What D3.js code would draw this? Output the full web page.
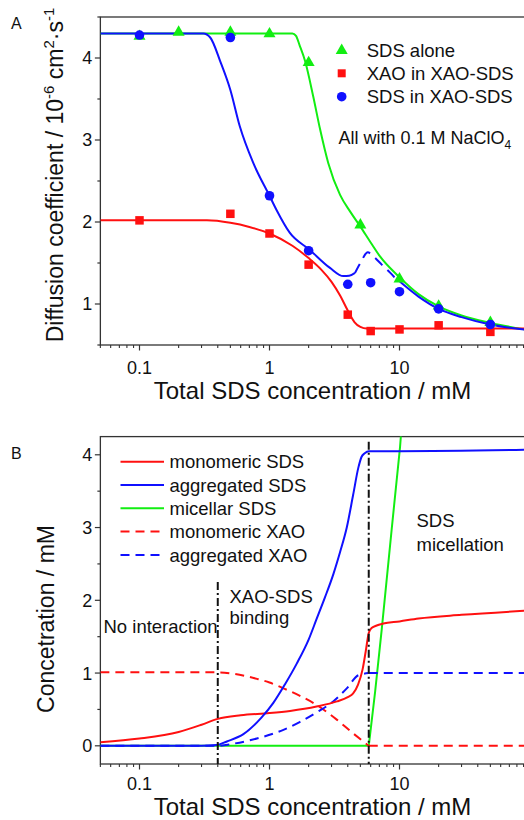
<!DOCTYPE html>
<html><head><meta charset="utf-8">
<script src="https://cdn.jsdelivr.net/npm/d3@7"></script>
<style>
html,body{margin:0;padding:0;background:#fff;}
svg{display:block;font-family:"Liberation Sans",Arial,Helvetica,sans-serif;}
</style></head><body>
<svg id="chart" width="524" height="820"></svg>
<script>
// ---------- Panel A: diffusion coefficient (10^-6 cm^2 s^-1) vs total SDS (mM)
const sdsAloneConc = [0.1, 0.2, 0.5, 1, 2, 5, 10, 20, 50];
const sdsAloneD    = [4.27, 4.32, 4.32, 4.30, 3.95, 1.97, 1.31, 0.98, 0.78];
const mixConc      = [0.1, 0.5, 1, 2, 4, 6, 10, 20, 50];
const xaoInMixD    = [2.02, 2.10, 1.86, 1.48, 0.87, 0.67, 0.69, 0.74, 0.66];
const sdsInMixD    = [4.28, 4.25, 2.32, 1.65, 1.24, 1.26, 1.15, 0.94, 0.75];

// fitted curves, [conc, D]
const sdsAloneFit = [[0.05,4.30],[1.5,4.30],[1.6,4.27],[1.7,4.16],[1.88,3.96],[2.17,3.53],[2.45,3.13],
  [2.83,2.72],[3.49,2.33],[4.2,2.12],[4.97,1.95],[6,1.75],[7.08,1.58],[10.1,1.32],[14,1.12],[20,0.97],
  [30,0.86],[50,0.77],[100,0.68]];
const xaoInMixFit = [[0.05,2.02],[0.33,2.02],[0.5,1.99],[0.7,1.94],[1.0,1.86],[1.5,1.71],[2.0,1.56],
  [2.5,1.42],[3.0,1.27],[3.5,1.10],[4.0,0.92],[4.5,0.78],[5.0,0.72],[5.6,0.70],[100,0.70]];
const sdsInMixFit = [[0.05,4.30],[0.31,4.30],[0.35,4.25],[0.42,3.95],[0.5,3.61],[0.59,3.17],[0.75,2.72],
  [1.0,2.32],[1.13,2.15],[1.43,1.87],[2.04,1.66],[2.92,1.44],[3.7,1.34],[4.1,1.345],[4.55,1.38]];
const sdsInMixBridge = [[4.55,1.38],[5.0,1.50],[5.7,1.63],[6.3,1.58],[7.3,1.48],[8.5,1.38],[9.5,1.30],[10.1,1.27]];
const sdsInMixTail = [[10.1,1.27],[14,1.09],[20,0.94],[30,0.84],[50,0.75],[100,0.68]];

const legendA = ["SDS alone", "XAO in XAO-SDS", "SDS in XAO-SDS"];

// ---------- Panel B: species concentrations (mM) vs total SDS (mM)
const monoSDS = [[0.05,0.05],[0.1,0.10],[0.2,0.19],[0.3,0.29],[0.4,0.37],[0.6,0.42],[1,0.45],[1.44,0.48],
  [2.3,0.54],[3.3,0.61],[4.0,0.67],[4.4,0.72],[4.8,0.84],[5.2,1.05],[5.5,1.30],[5.8,1.55],[6.1,1.62],
  [6.6,1.65],[7.5,1.68],[10,1.71],[14,1.75],[30,1.80],[100,1.86]];
const aggSDS = [[0.05,0],[0.3,0],[0.39,0.01],[0.47,0.06],[0.63,0.16],[0.87,0.39],[1.07,0.59],[1.32,0.85],
  [1.62,1.13],[2.0,1.46],[2.3,1.74],[2.67,2.04],[3.1,2.36],[3.5,2.67],[3.93,3.0],[4.4,3.45],
  [4.82,3.82],[5.1,3.97],[5.4,4.02],[5.8,4.05],[10,4.05],[100,4.07]];
const micSDS = [[0.05,0],[5.8,0],[6.5,0.75],[7.3,1.6],[8.7,2.97],[10.1,4.11],[10.6,4.6]];
const monoXAO = [[0.05,1.01],[0.4,1.01],[0.53,0.99],[0.8,0.92],[1.0,0.87],[1.28,0.79],[1.7,0.69],
  [2.31,0.56],[3.29,0.36],[4.41,0.17],[5.8,0.0]];
const monoXAOTail = [[5.8,0],[100,0]];
const aggXAO = [[0.05,0],[0.4,0],[0.53,0.03],[0.8,0.10],[1.28,0.22],[1.72,0.33],[2.31,0.46],[3.09,0.61],
  [3.93,0.79],[4.82,0.97],[5.8,1.0]];
const aggXAOTail = [[5.8,1.0],[100,1.0]];

const legendB = ["monomeric SDS", "aggregated SDS", "micellar SDS", "monomeric XAO", "aggregated XAO"];
const regionBounds = [0.4, 5.8];      // total SDS (mM) of the dash-dot boundaries
const regionBoundTops = [2.25, 4.18]; // concentration where each boundary starts

const xTickVals = [0.1, 1, 10, 100];
const xTickLabels = ["0.1", "1", "10", ""];
const yTicksA = [1, 2, 3, 4];
const yTicksB = [0, 1, 2, 3, 4];

// ---------- drawing
const RED = "#ff1010", BLUE = "#1010ff", GREEN = "#12ee12";
const svg = d3.select("#chart");
const decade = 130, x01 = 139.5;
const x = d3.scaleLog().domain([0.05, 100]).range([x01 - decade * Math.log10(2), x01 + decade * 3]);
const yA = d3.scaleLinear().domain([0.5, 4.5]).range([345, 17]);
const yB = d3.scaleLinear().domain([-0.25, 4.25]).range([764, 436.6]);

const minorX = [];
[0.01, 0.1, 1, 10].forEach(b => { for (let k = 2; k <= 9; k++) { const v = b * k; if (v >= 0.05 && v <= 100) minorX.push(v); } });

function panel(y, yMajor, clipId, tickDy) {
  const [x0, x1] = x.range();
  const [yb, yt] = y.range();
  svg.append("clipPath").attr("id", clipId).append("rect")
    .attr("x", x0).attr("y", yt).attr("width", x1 - x0).attr("height", yb - yt);
  const g = svg.append("g");
  // frame
  g.append("rect").attr("x", x0).attr("y", yt).attr("width", x1 - x0).attr("height", yb - yt)
    .attr("fill", "none").attr("stroke", "#333").attr("stroke-width", 1.3);
  // x ticks
  xTickVals.forEach((v, i) => {
    g.append("line").attr("x1", x(v)).attr("x2", x(v)).attr("y1", yb).attr("y2", yb + 5.5)
      .attr("stroke", "#333").attr("stroke-width", 1.2);
    g.append("text").attr("x", x(v)).attr("y", yb + tickDy).attr("text-anchor", "middle")
      .attr("font-size", 18).attr("fill", "#111").text(xTickLabels[i]);
  });
  minorX.forEach(v => g.append("line").attr("x1", x(v)).attr("x2", x(v)).attr("y1", yb).attr("y2", yb + 3)
    .attr("stroke", "#333").attr("stroke-width", 1.1));
  // y ticks
  const [d0, d1] = y.domain();
  for (let v = Math.ceil(d0 * 2) / 2; v <= d1 + 1e-9; v += 0.5) {
    const major = Math.abs(v - Math.round(v)) < 1e-9;
    g.append("line").attr("x1", x0).attr("x2", x0 - (major ? 5.5 : 3)).attr("y1", y(v)).attr("y2", y(v))
      .attr("stroke", "#333").attr("stroke-width", 1.2);
  }
  yMajor.forEach(v => g.append("text").attr("x", x0 - 8).attr("y", y(v)).attr("dy", "0.36em")
    .attr("text-anchor", "end").attr("font-size", 18).attr("fill", "#111").text(v));
  return svg.append("g").attr("clip-path", `url(#${clipId})`);
}

function curve(g, y, data, color, dash, curveType) {
  const line = d3.line().x(d => x(d[0])).y(d => y(d[1])).curve(curveType || d3.curveMonotoneX);
  const p = g.append("path").attr("d", line(data)).attr("fill", "none").attr("stroke", color)
    .attr("stroke-width", 2).attr("stroke-linejoin", "round");
  if (dash) p.attr("stroke-dasharray", dash);
  return p;
}

function tri(g, cx, cy, s, color) {
  const h = s * 0.87;
  g.append("path").attr("d", `M${cx},${cy - h * 0.62}L${cx + s / 2},${cy + h * 0.38}L${cx - s / 2},${cy + h * 0.38}Z`)
    .attr("fill", color);
}
function sq(g, cx, cy, s, color) {
  g.append("rect").attr("x", cx - s / 2).attr("y", cy - s / 2).attr("width", s).attr("height", s).attr("fill", color);
}
function dot(g, cx, cy, r, color) {
  g.append("circle").attr("cx", cx).attr("cy", cy).attr("r", r).attr("fill", color);
}

// ===== Panel A
const pA = panel(yA, yTicksA, "clipA", 28.5);
curve(pA, yA, sdsAloneFit, GREEN);
curve(pA, yA, xaoInMixFit, RED);
curve(pA, yA, sdsInMixFit, BLUE);
curve(pA, yA, sdsInMixBridge, BLUE, "10,7");
curve(pA, yA, sdsInMixTail, BLUE);
sdsAloneConc.forEach((c, i) => tri(pA, x(c), yA(sdsAloneD[i]), 12, GREEN));
mixConc.forEach((c, i) => sq(pA, x(c), yA(xaoInMixD[i]), 8.5, RED));
mixConc.forEach((c, i) => dot(pA, x(c), yA(sdsInMixD[i]), 4.8, BLUE));

const legA = svg.append("g").attr("font-size", 18.5).attr("fill", "#111");
const legRowsA = [50, 73.3, 96.7];
tri(legA, 341.7, legRowsA[0], 12, GREEN);
sq(legA, 341.7, legRowsA[1], 8, RED);
dot(legA, 341.7, legRowsA[2], 4.8, BLUE);
legendA.forEach((t, i) => legA.append("text").attr("x", 366.7).attr("y", legRowsA[i]).attr("dy", "0.36em").text(t));
const note = legA.append("text").attr("x", 338.5).attr("y", 137.5).attr("dy", "0.36em").attr("font-size", 18);
note.append("tspan").text("All with 0.1 M NaClO");
note.append("tspan").attr("font-size", 12).attr("dy", 5).text("4");

// ===== Panel B
const pB = panel(yB, yTicksB, "clipB", 25.5);
// region boundaries
regionBounds.forEach((b, i) => svg.append("line").attr("x1", x(b)).attr("x2", x(b))
  .attr("y1", yB(regionBoundTops[i])).attr("y2", yB.range()[0])
  .attr("stroke", "#111").attr("stroke-width", 2).attr("stroke-dasharray", "8,3,2,3"));
curve(pB, yB, micSDS, GREEN, null, d3.curveLinear);
curve(pB, yB, monoXAO, RED, "9,6");
curve(pB, yB, monoXAOTail, RED, "9,6", d3.curveLinear);
curve(pB, yB, aggXAO, BLUE, "9,6");
curve(pB, yB, aggXAOTail, BLUE, "9,6", d3.curveLinear);
curve(pB, yB, monoSDS, RED);
curve(pB, yB, aggSDS, BLUE);

const legB = svg.append("g").attr("font-size", 18.5).attr("fill", "#111");
const legStyles = [[RED, null], [BLUE, null], [GREEN, null], [RED, "9,6"], [BLUE, "9,6"]];
legendB.forEach((t, i) => {
  const yy = 461.7 + i * 23.3;
  const l = legB.append("line").attr("x1", 120.5).attr("x2", 164).attr("y1", yy).attr("y2", yy)
    .attr("stroke", legStyles[i][0]).attr("stroke-width", 2);
  if (legStyles[i][1]) l.attr("stroke-dasharray", legStyles[i][1]);
  legB.append("text").attr("x", 169.5).attr("y", yy).attr("dy", "0.36em").text(t);
});

const ann = svg.append("g").attr("font-size", 18.5).attr("fill", "#111");
ann.append("text").attr("x", 103.5).attr("y", 633).text("No interaction");
ann.append("text").attr("x", 229.5).attr("y", 603).text("XAO-SDS");
ann.append("text").attr("x", 229.5).attr("y", 624).text("binding");
ann.append("text").attr("x", 416.5).attr("y", 527).text("SDS");
ann.append("text").attr("x", 416.5).attr("y", 551).text("micellation");

// ===== titles
const titles = svg.append("g").attr("fill", "#111");
titles.append("text").attr("x", 312.5).attr("y", 399).attr("text-anchor", "middle").attr("font-size", 24)
  .text("Total SDS concentration / mM");
titles.append("text").attr("x", 312.5).attr("y", 814.5).attr("text-anchor", "middle").attr("font-size", 24)
  .text("Total SDS concentration / mM");
const yt = titles.append("text").attr("transform", "translate(63,175) rotate(-90)")
  .attr("text-anchor", "middle").attr("font-size", 23);
yt.append("tspan").text("Diffusion coefficient / 10");
yt.append("tspan").attr("font-size", 15).attr("dy", -9).text("-6");
yt.append("tspan").attr("dy", 9).text(" cm");
yt.append("tspan").attr("font-size", 15).attr("dy", -9).text("2");
yt.append("tspan").attr("dy", 9).text("\u00b7s");
yt.append("tspan").attr("font-size", 15).attr("dy", -9).text("-1");
titles.append("text").attr("transform", "translate(53.5,619) rotate(-90)")
  .attr("text-anchor", "middle").attr("font-size", 23).text("Concetration / mM");
titles.append("text").attr("x", 11).attr("y", 29).attr("font-size", 16).text("A");
titles.append("text").attr("x", 11).attr("y", 459).attr("font-size", 16).text("B");
</script>
</body></html>
